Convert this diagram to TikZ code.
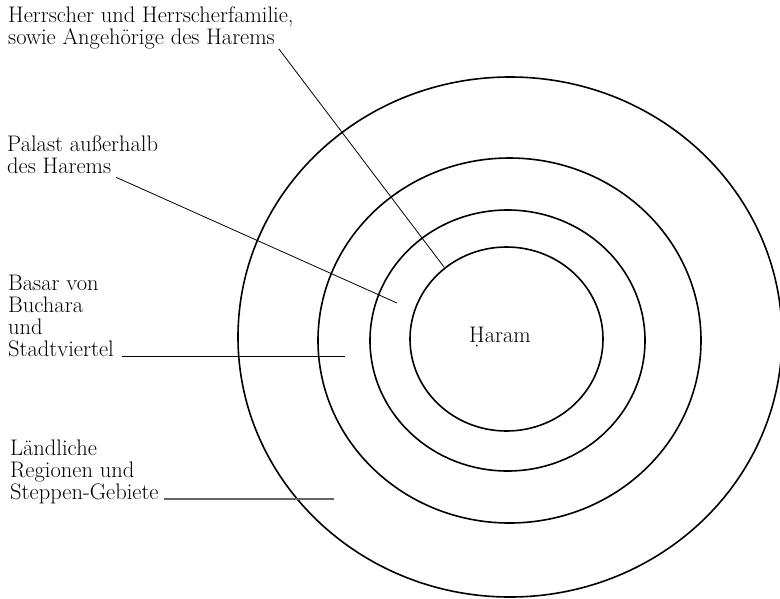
\documentclass[tikz,border=0pt]{standalone}
\usepackage{tikz}

\begin{document}
\begin{tikzpicture}[
    x=1pt,y=-1pt,
    rim/.style={line width=1.6pt},
    leader/.style={line width=0.8pt},
    greyleader/.style={line width=1.2pt,black!60},
    zone/.style={font={\fontsize{22.5}{22}\selectfont},align=left,inner sep=0pt,anchor=base west}]

    \useasboundingbox (0,0) rectangle (780,598);
    \clip (0,0) rectangle (780,598);

    % rings, outside in
    \draw[rim] (510,337) ellipse [x radius=272, y radius=260];
    \draw[rim] (509.5,340.5) ellipse [x radius=191.5, y radius=182.5];
    \draw[rim] (507.5,340.5) ellipse [x radius=137.5, y radius=130.5];
    \draw[rim] (506.5,339) ellipse [x radius=96.5, y radius=92];

    \node[zone,anchor=base] (haram) at (500,342) {\d{H}aram};

    % base = baseline of the last line
    \node[zone] (herr)   at (8,44)   {Herrscher und Herrscherfamilie,\\sowie Angehörige des Harems};
    \node[zone] (palast) at (7,173)  {Palast außerhalb\\des Harems};
    \node[zone] (basar)  at (8,356)  {Basar von\\Buchara\\und\\Stadtviertel};
    \node[zone] (land)   at (10,499) {Ländliche\\Regionen und\\Steppen-Gebiete};

    \coordinate (herr-pin)   at (444,267);
    \coordinate (palast-pin) at (397,303);
    \coordinate (basar-pin)  at (345,356);
    \coordinate (land-pin)   at (334,499);

    \draw[leader] ([shift={(-15,0)}]herr.south east) -- (herr-pin);
    \draw[leader] ([shift={(-42,4)}]palast.south east) -- (palast-pin);
    \draw[leader] (basar.east |- basar-pin) ++(8,0) -- (basar-pin);
    \draw[greyleader] (land.east |- land-pin) ++(5,0) -- (land-pin);

\end{tikzpicture}
\end{document}
